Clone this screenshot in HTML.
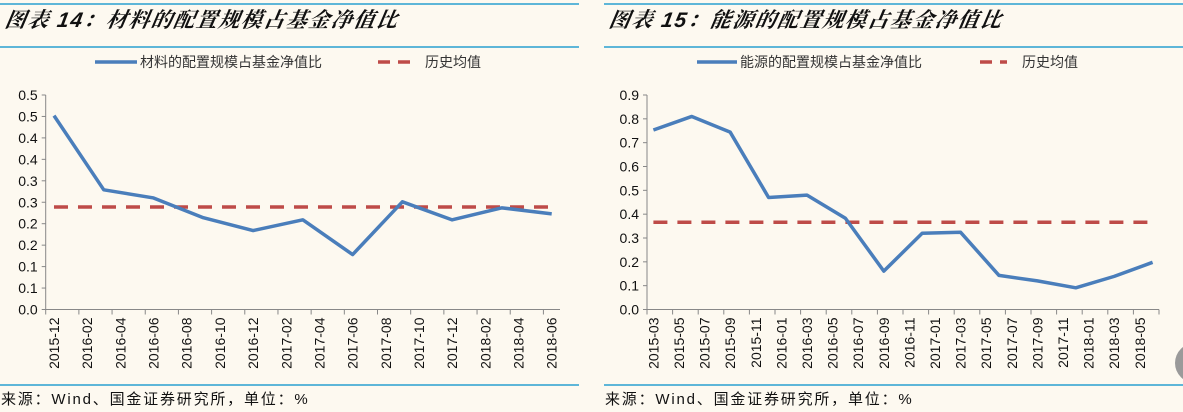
<!DOCTYPE html>
<html><head><meta charset="utf-8">
<style>
html,body{margin:0;padding:0;background:#fdf9f0;}
body{width:1183px;height:412px;overflow:hidden;position:relative;font-family:"Liberation Sans","Noto Sans CJK SC",sans-serif;}
svg{position:absolute;left:0;top:0;}
</style></head>
<body>
<svg id="s" width="1183" height="412"></svg>
<script>
const leftMonths=["2015-12","2016-01","2016-02","2016-03","2016-04","2016-05","2016-06","2016-07","2016-08","2016-09","2016-10","2016-11","2016-12","2017-01","2017-02","2017-03","2017-04","2017-05","2017-06","2017-07","2017-08","2017-09","2017-10","2017-11","2017-12","2018-01","2018-02","2018-03","2018-04","2018-05","2018-06"];
const leftDates=["2015-12","2016-03","2016-06","2016-09","2016-12","2017-03","2017-06","2017-09","2017-12","2018-03","2018-06"];
const leftValues=[0.452,0.279,0.26,0.214,0.184,0.209,0.128,0.251,0.209,0.237,0.223];
const leftAvg=0.239;
const leftTicks=["0.0","0.1","0.1","0.2","0.2","0.3","0.3","0.4","0.4","0.5","0.5"];
const rightMonths=[];
for(let y=2015;y<=2018;y++)for(let m=1;m<=12;m++){const s=y+"-"+String(m).padStart(2,"0");if(s>="2015-03"&&s<="2018-06")rightMonths.push(s);}
const rightDates=["2015-03","2015-06","2015-09","2015-12","2016-03","2016-06","2016-09","2016-12","2017-03","2017-06","2017-09","2017-12","2018-03","2018-06"];
const rightValues=[0.753,0.81,0.744,0.47,0.48,0.383,0.161,0.32,0.324,0.143,0.12,0.091,0.139,0.198];
const rightAvg=0.366;
const rightTicks=["0.0","0.1","0.2","0.3","0.4","0.5","0.6","0.7","0.8","0.9"];

const NS="http://www.w3.org/2000/svg";
const svg=document.getElementById("s");
function mk(tag,attrs,name,parent){const e=document.createElementNS(NS,tag);for(const k in attrs)e.setAttribute(k,attrs[k]);


(parent||svg).appendChild(e);return e;}
function txt(x,y,s,attrs,name){const t=mk("text",Object.assign({x:x,y:y},attrs),name);t.textContent=s;return t;}

function panel(o){
  const g=mk("g",{},o.name);
  mk("line",{x1:o.px0,x2:o.px1,y1:4,y2:4,stroke:"#2aa0cf","stroke-width":1.5},"title-rule-top",g);
  mk("line",{x1:o.px0,x2:o.px1,y1:47,y2:47,stroke:"#2aa0cf","stroke-width":1.5},"title-rule-bottom",g);
  mk("line",{x1:o.px0,x2:o.px1,y1:385,y2:385,stroke:"#2aa0cf","stroke-width":1.5},"footer-rule",g);
  txt(o.px0+4,27,o.title,{"font-size":21,"font-weight":"bold","font-style":"italic","letter-spacing":"1.5",fill:"#111","font-family":"\"Liberation Sans\",\"Noto Serif CJK SC\",serif",transform:"skewX(-10)","transform-origin":(o.px0)+"px 27px"},"chart-title");
  txt(o.px0+1,404,"来源：Wind、国金证券研究所，单位：%",{"font-size":15,"letter-spacing":"1.8",fill:"#111"},"source-note");
  mk("line",{x1:o.lg[0],x2:o.lg[1],y1:o.ly,y2:o.ly,stroke:"#4a7ebb","stroke-width":3.5},"legend-line-swatch",g);
  txt(o.lg[1]+3,o.ly+5,o.series,{"font-size":14,fill:"#333"},"legend-series-label");
  mk("line",{x1:o.lg[2],x2:o.lg[3],y1:o.ly,y2:o.ly,stroke:"#be4b48","stroke-width":3.5,"stroke-dasharray":"12,8"},"legend-avg-swatch",g);
  txt(o.lg[3]+15,o.ly+5,"历史均值",{"font-size":14,fill:"#333"},"legend-avg-label");
  const n=o.months.length, mw=(o.x1-o.x0)/n;
  const X=d=>o.x0+mw*(o.months.indexOf(d)+0.5);
  const Y=v=>o.y0-(v/o.max)*(o.y0-o.yTop);
  mk("line",{x1:o.x0,x2:o.x0,y1:o.yTop,y2:o.y0,stroke:"#888","stroke-width":1},"y-axis",g);
  o.ticks.forEach((t,i)=>{const y=o.y0-i*(o.y0-o.yTop)/(o.ticks.length-1);
    mk("line",{x1:o.x0-4,x2:o.x0,y1:y,y2:y,stroke:"#888"},"y-tick",g);
    txt(o.x0-8,y+5,t,{"font-size":14,fill:"#111","text-anchor":"end"},"y-tick-label");});
  mk("line",{x1:o.x0,x2:o.x1,y1:o.y0,y2:o.y0,stroke:"#888"},"x-axis",g);
  for(let i=0;i<=n;i+=2){const x=o.x0+i*mw;
    mk("line",{x1:x,x2:x,y1:o.y0,y2:o.y0+5,stroke:"#888"},"x-tick",g);
    if(i<n){txt(0,0,o.months[i],{"font-size":14,fill:"#111","text-anchor":"end",transform:`translate(${x+mw/2+5},${o.y0+8}) rotate(-90)`},"x-tick-label");}}
  mk("line",{x1:X(o.dates[0]),x2:X(o.dates[o.dates.length-1]),y1:Y(o.avg),y2:Y(o.avg),stroke:"#be4b48","stroke-width":3.5,"stroke-dasharray":"14,10"},"average-line",g);
  mk("polyline",{points:o.dates.map((d,i)=>X(d)+","+Y(o.vals[i])).join(" "),fill:"none",stroke:"#4a7ebb","stroke-width":3.5,"stroke-linejoin":"round"},"series-line",g);
}
panel({name:"left-chart-panel",px0:0,px1:579,title:"图表 14：材料的配置规模占基金净值比",series:"材料的配置规模占基金净值比",lg:[95,137,378,410],ly:62,
 x0:45.7,x1:560,y0:309.5,yTop:95,max:0.5,months:leftMonths,dates:leftDates,vals:leftValues,avg:leftAvg,ticks:leftTicks});
panel({name:"right-chart-panel",px0:604,px1:1183,title:"图表 15：能源的配置规模占基金净值比",series:"能源的配置规模占基金净值比",lg:[697,737,980,1007],ly:62,
 x0:647,x1:1159,y0:309.5,yTop:95,max:0.9,months:rightMonths,dates:rightDates,vals:rightValues,avg:rightAvg,ticks:rightTicks});
mk("circle",{cx:1195,cy:363,r:20,fill:"#9a9a9a"},"scroll-button");
</script>
</body></html>
